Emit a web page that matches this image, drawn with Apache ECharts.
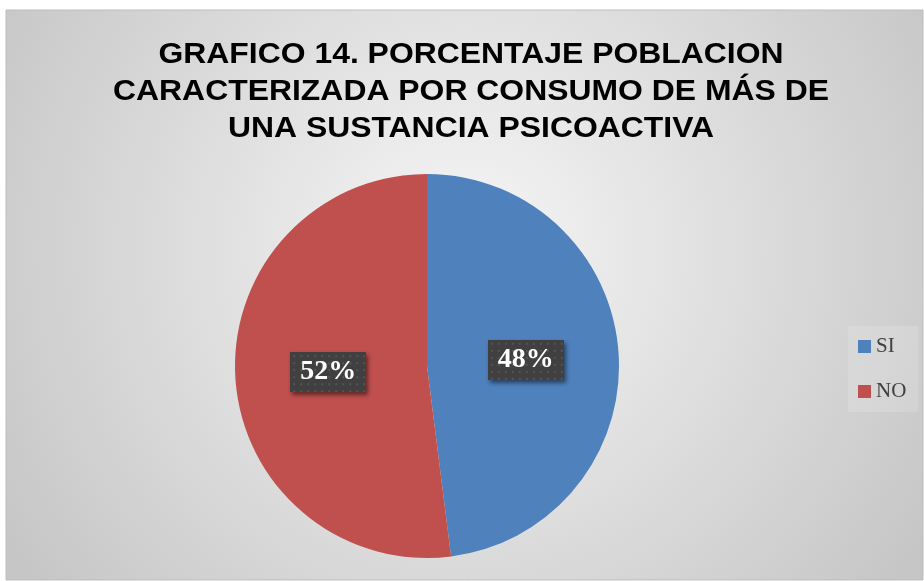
<!DOCTYPE html>
<html>
<head>
<meta charset="utf-8">
<script src="https://cdn.jsdelivr.net/npm/echarts@6/dist/echarts.min.js"></script>
<style>
  html, body { margin: 0; padding: 0; background: #ffffff; }
  #main { width: 924px; height: 581px; }
</style>
</head>
<body>
<div id="main"></div>
<script>
// datos del gráfico
var categorias = ['SI', 'NO'];
var valores = [48, 52];
var colores = ['#4f81bd', '#c0504d'];
var titulo = 'GRAFICO 14. PORCENTAJE POBLACION\nCARACTERIZADA POR CONSUMO DE MÁS DE\nUNA SUSTANCIA PSICOACTIVA';

var chartDom = document.getElementById('main');
var myChart = echarts.init(chartDom);

// fondo punteado de las etiquetas
function patronPuntos(w, h) {
    var c = document.createElement('canvas');
    c.width = w;
    c.height = h;
    var ctx = c.getContext('2d');
    ctx.fillStyle = '#404040';
    ctx.fillRect(0, 0, w, h);
    ctx.fillStyle = '#545454';
    for (var y = 3; y < h; y += 7) {
        for (var x = 3; x < w; x += 7) {
            ctx.fillRect(x, y, 2, 2);
        }
    }
    return c;
}
var fondoEtiqueta = patronPuntos(76, 40);

var datosPie = categorias.map(function (c, i) {
    return { name: c, value: valores[i], itemStyle: { color: colores[i] } };
});

var option = {
    animation: false,
    graphic: [
        {
            type: 'rect',
            z: -10,
            shape: { x: 6, y: 10, width: 917, height: 570 },
            style: {
                fill: {
                    type: 'radial', x: 0.5, y: 0.42, r: 0.95,
                    colorStops: [
                        { offset: 0, color: '#f6f6f6' },
                        { offset: 1, color: '#c6c6c6' }
                    ]
                },
                stroke: '#bdbdbd',
                lineWidth: 1
            }
        },
        {
            type: 'text',
            x: 471,
            y: 36,
            scaleX: 1.1,
            style: {
                text: titulo,
                textAlign: 'center',
                font: 'bold 29px "Liberation Sans"',
                lineHeight: 37,
                fill: '#000000'
            }
        }
    ],
    legend: {
        orient: 'vertical',
        left: 848,
        top: 326,
        padding: [10, 12, 10, 10],
        backgroundColor: 'rgba(255,255,255,0.15)',
        itemGap: 24,
        itemWidth: 13,
        itemHeight: 13,
        icon: 'rect',
        data: categorias,
        textStyle: {
            fontFamily: 'Liberation Serif',
            fontSize: 21,
            color: '#404040'
        }
    },
    series: [
        {
            type: 'pie',
            center: [427, 366],
            radius: [0, 192],
            startAngle: 90,
            clockwise: true,
            data: datosPie,
            itemStyle: { borderWidth: 0 },
            label: {
                show: true,
                position: 'inside',
                formatter: '{d}%',
                fontFamily: 'Liberation Serif',
                fontWeight: 'bold',
                fontSize: 28,
                color: '#ffffff',
                backgroundColor: { image: fondoEtiqueta },
                padding: [7, 10, 5, 10],
                shadowColor: 'rgba(0,0,0,0.5)',
                shadowBlur: 4,
                shadowOffsetX: 2,
                shadowOffsetY: 3
            },
            labelLine: { show: false },
            emphasis: { disabled: true }
        }
    ]
};

option && myChart.setOption(option);
</script>
</body>
</html>
